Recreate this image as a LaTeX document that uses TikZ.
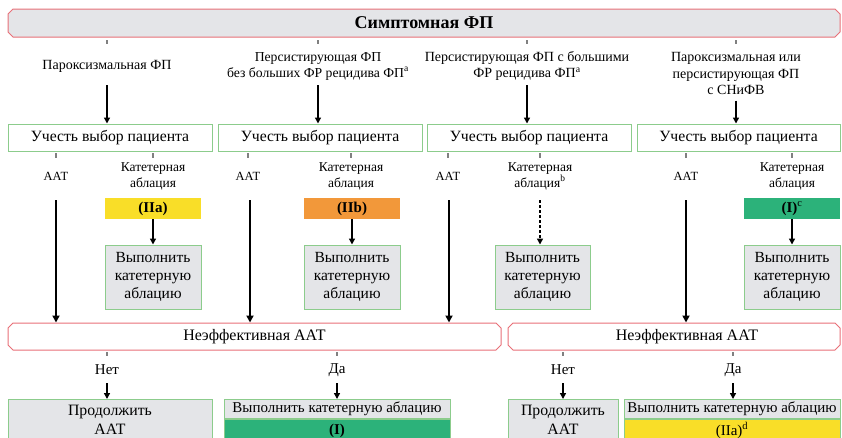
\documentclass[tikz,border=0pt]{standalone}
\usepackage{fontspec}
\setmainfont{Liberation Serif}
\usetikzlibrary{arrows.meta,shapes.misc}
\definecolor{redline}{RGB}{232,112,120}
\definecolor{greenline}{RGB}{140,204,140}
\definecolor{boxgray}{RGB}{228,229,232}
\definecolor{classyellow}{RGB}{249,222,40}
\definecolor{classorange}{RGB}{242,152,58}
\definecolor{classgreen}{RGB}{44,178,122}
\begin{document}
\begin{tikzpicture}[x=1pt,y=-1pt,
  redbox/.style={draw=redline,line width=1pt,chamfered rectangle,chamfered rectangle xsep=5pt,chamfered rectangle ysep=0pt,inner sep=0pt,minimum height=27pt},
  choicebox/.style={draw=greenline,line width=1pt,fill=white,minimum height=27pt,inner sep=0pt,font=\fontsize{15.7}{18}\selectfont},
  classbox/.style={minimum width=96pt,minimum height=21pt,inner sep=0pt,font=\bfseries\fontsize{15}{17}\selectfont},
  actbox/.style={draw=greenline,line width=1pt,fill=boxgray,minimum width=96pt,minimum height=64pt,inner sep=0pt,align=center,font=\fontsize{15.5}{18}\selectfont},
  lbl/.style={align=center,font=\fontsize{14}{16.3}\selectfont},
  catlbl/.style={align=center,font=\fontsize{13.5}{16}\selectfont},
  tick/.style={gray,line width=1.3pt},
  arr/.style={-{Triangle[length=6pt,width=6pt]},line width=1.4pt},
  longarr/.style={-{Triangle[length=7pt,width=7pt]},line width=1.8pt}]
\useasboundingbox (0,0) rectangle (842,437);

% top
\node[redbox,fill=boxgray,minimum width=832pt,minimum height=28pt,font=\bfseries\fontsize{18}{20}\selectfont] (top) at (424,23) {Симптомная ФП};

\node[lbl] (t1) at (107,66) {Пароксизмальная ФП};
\node[lbl,font=\fontsize{13.7}{16}\selectfont] (t2) at (318,66) {Персистирующая ФП\\без больших ФР рецидива ФП\textsuperscript{a}};
\node[lbl] (t3) at (527,66) {Персистирующая ФП с большими\\ФР рецидива ФП\textsuperscript{a}};
\node[lbl] (t4) at (736,73.5) {Пароксизмальная или\\персистирующая ФП\\с СНиФВ};

\foreach \x in {107,318,527,736}
  \draw[tick] (\x,40) -- (\x,44);

\node[choicebox,minimum width=204pt] (u1) at (110,137.5) {Учесть выбор пациента};
\node[choicebox,minimum width=204pt] (u2) at (320,137.5) {Учесть выбор пациента};
\node[choicebox,minimum width=204pt] (u3) at (529,137.5) {Учесть выбор пациента};
\node[choicebox,minimum width=203pt] (u4) at (738.5,137.5) {Учесть выбор пациента};

\draw[arr] (t1) ++(0,19) -- (t1 |- u1.north);
\draw[arr] (t2) ++(0,19) -- (t2 |- u2.north);
\draw[arr] (t3) ++(0,19) -- (t3 |- u3.north);
\draw[arr] (t4) ++(0,27) -- (t4 |- u4.north);

% AAT and ablation labels
\node[lbl,font=\fontsize{12.5}{15}\selectfont] (a1) at (56,176) {ААТ};
\node[lbl,font=\fontsize{12.5}{15}\selectfont] (a2) at (248,176) {ААТ};
\node[lbl,font=\fontsize{12.5}{15}\selectfont] (a3) at (448,176) {ААТ};
\node[lbl,font=\fontsize{12.5}{15}\selectfont] (a4) at (686,176) {ААТ};
\node[catlbl] (k1) at (153,176) {Катетерная\\аблация};
\node[catlbl] (k2) at (351,176) {Катетерная\\аблация};
\node[catlbl] (k3) at (540,176) {Катетерная\\аблация\textsuperscript{b}};
\node[catlbl] (k4) at (792,176) {Катетерная\\аблация};

\foreach \x in {56,153,248,351,448,540,686,792}
  \draw[tick] (\x,153) -- (\x,158);

\node[classbox,fill=classyellow] (c1) at (153,208.5) {(IIa)};
\node[classbox,fill=classorange] (c2) at (352,208.5) {(IIb)};
\node[classbox,fill=classgreen] (c4) at (792,208.5) {(I)\textsuperscript{\mdseries c}};

\node[actbox] (g1) at (153,277) {Выполнить\\катетерную\\аблацию};
\node[actbox] (g2) at (352,277) {Выполнить\\катетерную\\аблацию};
\node[actbox,minimum width=95pt] (g3) at (542.5,277) {Выполнить\\катетерную\\аблацию};
\node[actbox] (g4) at (792,277) {Выполнить\\катетерную\\аблацию};

\draw[arr] (c1) -- (g1);
\draw[arr] (c2) -- (g2);
\draw[arr] (c4) -- (g4);
\draw[arr,densely dashed] (k3) ++(0,24) -- (k3 |- g3.north);

% ineffective AAT
\node[redbox,fill=white,minimum width=493pt,font=\fontsize{16}{18}\selectfont] (n1) at (254.5,336.5) {Неэффективная ААТ};
\node[redbox,fill=white,minimum width=332pt,font=\fontsize{16}{18}\selectfont] (n2) at (674,336.5) {\hspace*{26pt}Неэффективная ААТ};

\draw[longarr] (a1) ++(0,24) -- (a1 |- n1.north);
\draw[longarr] (a2) ++(2,24) -- ([xshift=2pt]a2 |- n1.north);
\draw[longarr] (a3) ++(1,24) -- ([xshift=1pt]a3 |- n1.north);
\draw[longarr] (a4) ++(0,24) -- (a4 |- n2.north);

\node[lbl,font=\fontsize{15}{17}\selectfont] (no1) at (107,370) {Нет};
\node[lbl,font=\fontsize{15}{17}\selectfont] (yes1) at (337,370) {Да};
\node[lbl,font=\fontsize{15}{17}\selectfont] (no2) at (563,370) {Нет};
\node[lbl,font=\fontsize{15}{17}\selectfont] (yes2) at (733,370) {Да};

\foreach \x in {107,337,563,733}
  \draw[tick] (\x,352) -- (\x,356);

% bottom row
\node[actbox,anchor=north,minimum width=204pt,minimum height=41pt,font=\fontsize{15.8}{19}\selectfont] (b1) at (110,399) {Продолжить\\ААТ};
\node[actbox,anchor=north,minimum width=226pt,minimum height=19pt,font=\fontsize{15}{17}\selectfont] (b2) at (337,399) {Выполнить катетерную аблацию};
\node[actbox,anchor=north,fill=classgreen,minimum width=226pt,minimum height=22pt,font=\bfseries\fontsize{15}{17}\selectfont] (b2c) at (b2.south) {(I)};
\node[actbox,anchor=north,minimum width=110pt,minimum height=41pt,font=\fontsize{15.8}{19}\selectfont] (b3) at (563,399) {Продолжить\\ААТ};
\node[actbox,anchor=north,minimum width=216pt,minimum height=19pt,font=\fontsize{15}{17}\selectfont] (b4) at (732,399) {Выполнить катетерную аблацию};
\node[actbox,anchor=north,fill=classyellow,minimum width=216pt,minimum height=22pt,font=\fontsize{15}{17}\selectfont] (b4c) at (b4.south) {(IIa)\textsuperscript{d}};

\draw[arr] (no1) ++(0,13) -- (no1 |- b1.north);
\draw[arr] (yes1) ++(0,13) -- (yes1 |- b2.north);
\draw[arr] (no2) ++(0,13) -- (no2 |- b3.north);
\draw[arr] (yes2) ++(0,13) -- (yes2 |- b4.north);
\end{tikzpicture}
\end{document}
